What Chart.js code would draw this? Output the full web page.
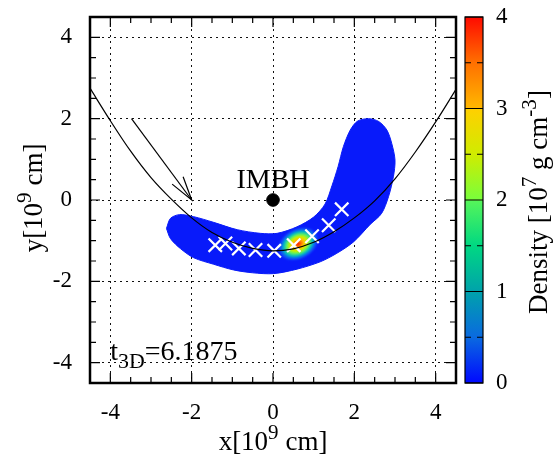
<!DOCTYPE html>
<html><head><meta charset="utf-8">
<script src="https://cdn.jsdelivr.net/npm/chart.js@4.4.1/dist/chart.umd.min.js"></script>
<style>html,body{margin:0;padding:0;background:#fff}</style>
</head><body>
<canvas id="c" width="554" height="454"></canvas>
<script>
// ---------- data ----------
const xTickValues = [-4, -2, 0, 2, 4];
const yTickValues = [-4, -2, 0, 2, 4];
const minorTickValues = [-4, -3.5, -3, -2.5, -2, -1.5, -1, -0.5, 0, 0.5, 1, 1.5, 2, 2.5, 3, 3.5, 4];
const densityTicks = [0, 1, 2, 3, 4];
const densityMinorTicks = [0.5, 1.5, 2.5, 3.5];

// orbit (black curve)
const trajX = [-4.5, -4, -3.5, -3, -2.5, -2, -1.5, -1, -0.5, 0, 0.5, 1, 1.5, 2, 2.5, 3, 3.5, 4, 4.5];
const trajY = [2.75, 1.95, 1.2, 0.55, 0.02, -0.44, -0.8, -1.04, -1.19, -1.25, -1.2, -1.04, -0.78, -0.44, -0.02, 0.52, 1.18, 1.92, 2.72];

// arrow
const arrowX = [-3.48, -2.0];
const arrowY = [2.0, 0.0];
const arrowHeadX = [-2.48, -2.0, -2.21];
const arrowHeadY = [0.39, 0.0, 0.57];

// outline of the debris (density > 0)
const blobX = [-2.62, -2.52, -2.3, -1.95, -1.46, -0.88, -0.31, 0.1, 0.59, 1.0, 1.28, 1.45, 1.6, 1.73, 1.9, 2.08, 2.35, 2.6, 2.8, 2.92, 3.0, 2.96, 2.84, 2.67, 2.39, 1.98, 1.57, 1.16, 0.59, 0.02, -0.5, -0.97, -1.46, -1.95, -2.27, -2.52, -2.62];
const blobY = [-0.70, -0.45, -0.36, -0.41, -0.55, -0.73, -0.82, -0.82, -0.66, -0.42, -0.1, 0.35, 0.82, 1.31, 1.72, 1.94, 2.0, 1.93, 1.72, 1.39, 0.98, 0.57, 0.08, -0.33, -0.6, -1.03, -1.31, -1.52, -1.70, -1.81, -1.79, -1.72, -1.58, -1.42, -1.2, -0.95, -0.70];

// density peak
const hotX = [0.62];
const hotY = [-1.08];
const hotPeak = [4];

// white crosses
const crossX = [-1.42, -1.17, -0.84, -0.43, 0.03, 0.51, 0.96, 1.37, 1.69];
const crossY = [-1.11, -1.07, -1.19, -1.23, -1.25, -1.11, -0.89, -0.62, -0.23];

// IMBH
const imbhX = [0];
const imbhY = [0];
const imbhLabel = 'IMBH';
const timeValue = '6.1875';

// ---------- styling ----------
const FONT = "'Liberation Serif', 'DejaVu Serif', serif";
const cmapStops = [
  [0.0, '#0008ff'], [0.5, '#0a6ae0'], [1.0, '#00a2ab'], [1.5, '#00d882'],
  [1.99, '#55f55a'], [2.0, '#78ff3c'], [2.5, '#d0ec00'], [2.99, '#ffd000'],
  [3.0, '#ffb800'], [3.5, '#ff7000'], [4.0, '#ff0a00']
];
const BLUE = 'rgb(8,26,250)';

function pts(xs, ys) { return xs.map((x, i) => ({x: x, y: ys[i]})); }

function makeGlow(peak) {
  const c = document.createElement('canvas');
  c.width = 46; c.height = 34;
  const g = c.getContext('2d');
  g.translate(23, 17);
  g.scale(1, 0.72);
  const rg = g.createRadialGradient(0, 0, 0, 0, 0, 23);
  const f = peak / 4;
  rg.addColorStop(0, 'rgba(255,20,0,' + f + ')');
  rg.addColorStop(0.12, '#ff6a00');
  rg.addColorStop(0.26, '#ffc400');
  rg.addColorStop(0.4, '#c8f000');
  rg.addColorStop(0.53, '#5cf064');
  rg.addColorStop(0.68, 'rgba(0,205,190,0.85)');
  rg.addColorStop(0.84, 'rgba(20,120,250,0.5)');
  rg.addColorStop(1, 'rgba(8,26,250,0)');
  g.fillStyle = rg;
  g.beginPath(); g.arc(0, 0, 23, 0, Math.PI * 2); g.fill();
  return c;
}

function drawRich(ctx, parts, x, y, size, align) {
  const fs = m => (m === 0 ? size : size * 0.78);
  let total = 0;
  parts.forEach(p => { ctx.font = fs(p[1]) + 'px ' + FONT; total += ctx.measureText(p[0]).width; });
  let cx = align === 'center' ? x - total / 2 : x;
  ctx.textAlign = 'left';
  ctx.textBaseline = 'alphabetic';
  parts.forEach(p => {
    ctx.font = fs(p[1]) + 'px ' + FONT;
    const dy = p[1] === 1 ? -size * 0.42 : (p[1] === -1 ? size * 0.28 : 0);
    ctx.fillText(p[0], cx, y + dy);
    cx += ctx.measureText(p[0]).width;
  });
}

const decor = {
  id: 'decor',
  afterDatasetsDraw(chart) {
    const ctx = chart.ctx;
    const a = chart.chartArea;
    const xs = chart.scales.x, ys = chart.scales.y, cb = chart.scales.cb;
    ctx.save();
    ctx.fillStyle = '#000';
    // IMBH label
    ctx.font = '28px ' + FONT;
    ctx.textAlign = 'center';
    ctx.textBaseline = 'alphabetic';
    ctx.fillText(imbhLabel, xs.getPixelForValue(imbhX[0]), ys.getPixelForValue(0.3));
    // time label
    drawRich(ctx, [['t', 0], ['3D', -1], ['=' + timeValue, 0]], xs.getPixelForValue(-4.0), ys.getPixelForValue(-3.93), 28, 'left');

    // frame
    ctx.strokeStyle = '#000';
    ctx.lineWidth = 2.5;
    ctx.strokeRect(a.left, a.top, a.right - a.left, a.bottom - a.top);
    // tick marks (inward, mirrored)
    ctx.lineWidth = 1.2;
    ctx.beginPath();
    minorTickValues.forEach(v => {
      const major = xTickValues.includes(v);
      const L = major ? 10 : 6;
      const px = xs.getPixelForValue(v);
      ctx.moveTo(px, a.bottom); ctx.lineTo(px, a.bottom - L);
      ctx.moveTo(px, a.top); ctx.lineTo(px, a.top + L);
      const py = ys.getPixelForValue(v);
      ctx.moveTo(a.left, py); ctx.lineTo(a.left + L, py);
      ctx.moveTo(a.right, py); ctx.lineTo(a.right - L, py);
    });
    ctx.stroke();

    // colour bar
    const bx0 = 465, bx1 = 483;
    const top = cb.getPixelForValue(4), bot = cb.getPixelForValue(0);
    const grad = ctx.createLinearGradient(0, bot, 0, top);
    cmapStops.forEach(s => grad.addColorStop(s[0] / 4, s[1]));
    ctx.fillStyle = grad;
    ctx.fillRect(bx0, top, bx1 - bx0, bot - top);
    ctx.strokeStyle = '#000';
    ctx.lineWidth = 1.2;
    ctx.strokeRect(bx0, top, bx1 - bx0, bot - top);
    ctx.beginPath();
    densityTicks.forEach(v => {
      const py = cb.getPixelForValue(v);
      ctx.moveTo(bx0, py); ctx.lineTo(bx1, py);
    });
    densityMinorTicks.forEach(v => {
      const py = cb.getPixelForValue(v);
      ctx.moveTo(bx0, py); ctx.lineTo(bx0 + 6, py);
      ctx.moveTo(bx1, py); ctx.lineTo(bx1 - 6, py);
    });
    ctx.stroke();

    // axis titles
    ctx.fillStyle = '#000';
    drawRich(ctx, [['x[10', 0], ['9', 1], [' cm]', 0]], (a.left + a.right) / 2, 450, 27, 'center');
    ctx.save();
    ctx.translate(42, (a.top + a.bottom) / 2 - 2);
    ctx.rotate(-Math.PI / 2);
    drawRich(ctx, [['y[10', 0], ['9', 1], [' cm]', 0]], 0, 0, 27, 'center');
    ctx.restore();
    ctx.save();
    ctx.translate(547, 202);
    ctx.rotate(-Math.PI / 2);
    drawRich(ctx, [['Density [10', 0], ['7', 1], [' g cm', 0], ['-3', 1], [']', 0]], 0, 0, 27, 'center');
    ctx.restore();
    ctx.restore();
  }
};

const tickFont = {family: FONT, size: 23};
function noPad(s) { s.paddingTop = 0; s.paddingBottom = 0; s.paddingLeft = 0; s.paddingRight = 0; }

new Chart(document.getElementById('c'), {
  type: 'scatter',
  data: {
    datasets: [
      { label: 'debris', data: pts(blobX, blobY), showLine: true, fill: 'shape',
        backgroundColor: BLUE, borderColor: BLUE, borderWidth: 1, pointRadius: 0, tension: 0.3, order: 10 },
      { label: 'peak', data: pts(hotX, hotY), pointStyle: hotPeak.map(makeGlow), rotation: -28,
        pointRadius: 16, order: 9 },
      { label: 'crosses', data: pts(crossX, crossY), pointStyle: 'crossRot', pointRadius: 9.5,
        borderColor: '#fff', borderWidth: 2.2, backgroundColor: '#fff', order: 8 },
      { label: 'orbit', data: pts(trajX, trajY), showLine: true, borderColor: '#000', borderWidth: 1.2,
        pointRadius: 0, cubicInterpolationMode: 'monotone', fill: false, order: 7 },
      { label: 'arrow', data: pts(arrowX, arrowY), showLine: true, borderColor: '#000', borderWidth: 1.2,
        pointRadius: 0, fill: false, order: 6 },
      { label: 'arrowhead', data: pts(arrowHeadX, arrowHeadY), showLine: true, borderColor: '#000', borderWidth: 1.2,
        pointRadius: 0, fill: false, order: 6 },
      { label: 'IMBH', data: pts(imbhX, imbhY), pointRadius: 6.3, backgroundColor: '#000', borderColor: '#000', order: 5 }
    ]
  },
  options: {
    responsive: false,
    animation: false,
    layout: {padding: {top: 16, left: 0, right: 0, bottom: 0}},
    plugins: {legend: {display: false}, tooltip: {enabled: false}},
    scales: {
      x: {
        type: 'linear', position: 'bottom', min: -4.5, max: 4.5,
        afterBuildTicks: s => { s.ticks = xTickValues.map(v => ({value: v})); },
        afterFit: s => { s.height = 71; noPad(s); },
        grid: {color: '#111', lineWidth: 1, drawTicks: false},
        border: {display: false, dash: [2, 4]},
        ticks: {font: tickFont, color: '#000', padding: 16, maxRotation: 0, autoSkip: false}
      },
      y: {
        type: 'linear', position: 'left', min: -4.5, max: 4.5,
        afterBuildTicks: s => { s.ticks = yTickValues.map(v => ({value: v})); },
        afterFit: s => { s.width = 90; noPad(s); },
        grid: {color: '#111', lineWidth: 1, drawTicks: false},
        border: {display: false, dash: [2, 4]},
        ticks: {font: tickFont, color: '#000', padding: 18, autoSkip: false}
      },
      cb: {
        type: 'linear', position: 'right', min: 0, max: 4,
        afterBuildTicks: s => { s.ticks = densityTicks.map(v => ({value: v})); },
        afterFit: s => { s.width = 98; noPad(s); },
        grid: {display: false, drawTicks: false},
        border: {display: false},
        ticks: {font: tickFont, color: '#000', padding: 40, autoSkip: false}
      }
    }
  },
  plugins: [decor]
});
</script>
</body></html>
